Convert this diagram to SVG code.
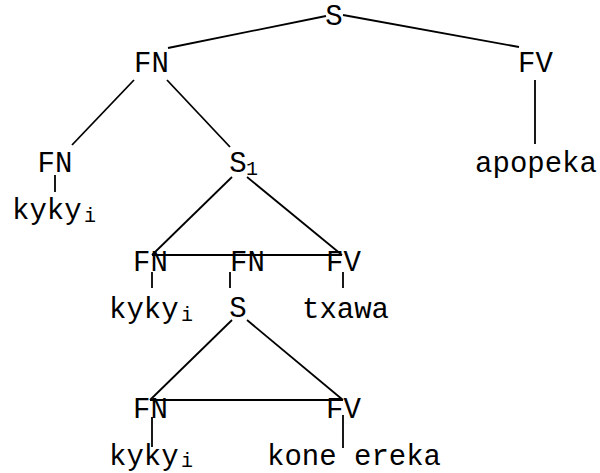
<svg xmlns="http://www.w3.org/2000/svg" width="600" height="473" viewBox="0 0 600 473">
  <style>
    text { font-family: "Liberation Mono", "Courier New", monospace; font-size: 29px; fill: #000; }
    .c { text-anchor: middle; }
    .sub { font-size: 20px; }
    .edges line { stroke: #000; stroke-width: 1.8; stroke-linecap: butt; }
  </style>
  <rect width="600" height="473" fill="#fff"/>

  <!-- tree branches -->
  <g class="edges" id="connectors">
    <line x1="326" y1="16" x2="168" y2="48"/>
    <line x1="343" y1="15" x2="519" y2="47"/>
    <line x1="535" y1="80" x2="535" y2="144"/>
    <line x1="134" y1="80" x2="72" y2="145"/>
    <line x1="167" y1="80" x2="230" y2="147"/>
    <line x1="55" y1="175" x2="55" y2="192"/>
    <line x1="232" y1="177" x2="152" y2="255"/>
    <line x1="247" y1="177" x2="342" y2="255"/>
    <line x1="152" y1="255" x2="342" y2="255"/>
    <line x1="152" y1="272" x2="152" y2="288"/>
    <line x1="230" y1="272" x2="230" y2="288"/>
    <line x1="343" y1="272" x2="343" y2="288"/>
    <line x1="232" y1="320" x2="150" y2="400"/>
    <line x1="247" y1="320" x2="343" y2="400"/>
    <line x1="150" y1="400" x2="343" y2="400"/>
    <line x1="152" y1="417" x2="152" y2="447"/>
    <line x1="343" y1="415" x2="343" y2="448"/>
  </g>

  <!-- nodes -->
  <g id="n-s"><text class="c" x="334" y="25">S</text></g>
  <g id="n-fn1"><text class="c" x="151.5" y="72">FN</text></g>
  <g id="n-fv1"><text class="c" x="535.5" y="72">FV</text></g>
  <g id="n-apopeka"><text class="c" x="536" y="172">apopeka</text></g>
  <g id="n-fn2"><text class="c" x="55" y="172">FN</text></g>
  <g id="n-kyky1"><text x="12" y="219">kyky</text><text class="sub" x="84" y="222">i</text></g>
  <g id="n-s1"><text class="c" x="238" y="172">S</text><text class="sub" x="246" y="175">1</text></g>
  <g id="n-fn3"><text class="c" x="150.5" y="271">FN</text></g>
  <g id="n-fn4"><text class="c" x="247.5" y="271">FN</text></g>
  <g id="n-fv2"><text class="c" x="343.5" y="271">FV</text></g>
  <g id="n-kyky2"><text x="109" y="318">kyky</text><text class="sub" x="181" y="321">i</text></g>
  <g id="n-s2"><text class="c" x="238" y="317">S</text></g>
  <g id="n-txawa"><text class="c" x="345.5" y="318">txawa</text></g>
  <g id="n-fn5"><text class="c" x="150.5" y="418">FN</text></g>
  <g id="n-fv3"><text class="c" x="343.5" y="418">FV</text></g>
  <g id="n-kyky3"><text x="109" y="465">kyky</text><text class="sub" x="181" y="467">i</text></g>
  <g id="n-koneereka"><text class="c" x="354" y="465">kone ereka</text></g>
</svg>
